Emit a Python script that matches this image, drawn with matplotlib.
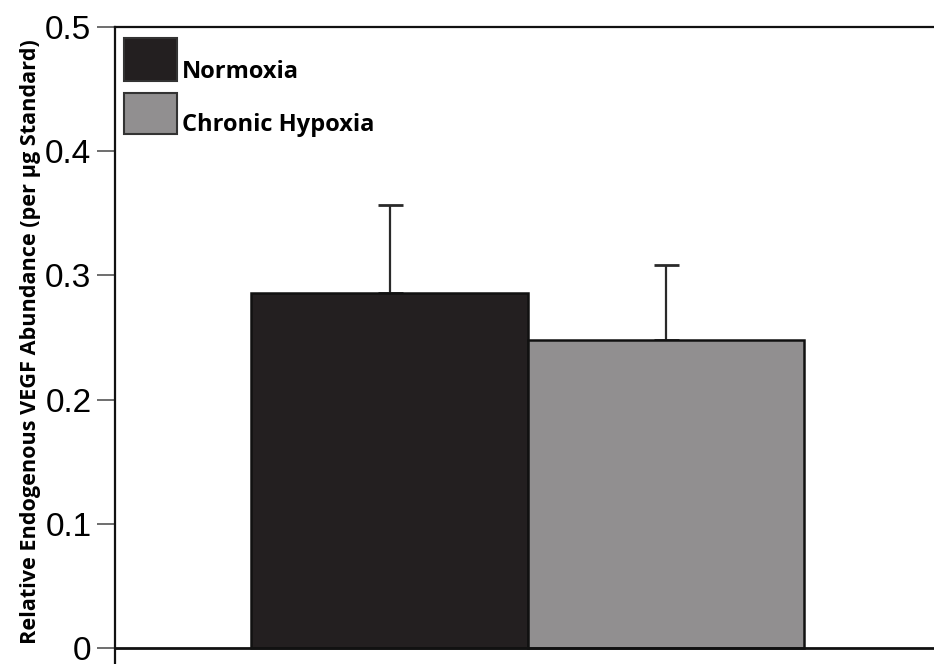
import numpy as np
import matplotlib.pyplot as plt
from matplotlib.patches import Rectangle

# data
groups = ["Normoxia", "Chronic Hypoxia"]
means = [0.286, 0.248]
errors = [0.071, 0.060]
colors = ["#231f20", "#918f90"]
yticks = [0, 0.1, 0.2, 0.3, 0.4, 0.5]
ytick_labels = ["0", "0.1", "0.2", "0.3", "0.4", "0.5"]

W, H = 934, 664
fig = plt.figure(figsize=(W / 100, H / 100), dpi=100)
ax = fig.add_axes([115 / W, 0, 1 - 115 / W, 1 - 27 / H])

x = np.arange(len(groups))
ax.bar(x, means, width=1.0, color=colors, edgecolor="#111111", linewidth=1.8, zorder=2)
ax.errorbar(x, means, yerr=[np.zeros(len(errors)), errors], fmt="none",
            ecolor="#2a2a2a", elinewidth=1.6, capsize=9, capthick=2, zorder=1)

ax.set_xlim(-0.993, 1.969)
ax.set_ylim(-0.0129, 0.5)
ax.spines["bottom"].set_position(("data", 0))
ax.spines["right"].set_visible(False)
for s, lw in [("left", 1.6), ("top", 1.6), ("bottom", 2.0)]:
    ax.spines[s].set_linewidth(lw)
    ax.spines[s].set_color("#111111")

ax.set_xticks([])
ax.set_yticks(yticks)
ax.set_yticklabels(ytick_labels, fontfamily="Liberation Sans", fontsize=24)
ax.tick_params(axis="y", direction="out", length=13, width=1.2, color="#555555", pad=4)

fig.text(31 / W, 1 - 342 / H, "Relative Endogenous VEGF Abundance (per µg Standard)",
         rotation=90, ha="center", va="center", fontsize=15.6,
         fontweight="bold", fontfamily="Open Sans")

# legend drawn by hand: boxes at the upper left, labels bottom-aligned to boxes
boxes = [(124, 38, 53, 43), (124, 93, 53, 41)]
for (bx, by, bw, bh), c, g in zip(boxes, colors, groups):
    fig.patches.append(Rectangle((bx / W, 1 - (by + bh) / H), bw / W, bh / H,
                                 transform=fig.transFigure, facecolor=c,
                                 edgecolor="#333333", linewidth=1.5))
    fig.text(182 / W, 1 - (by + bh - 3) / H, g, ha="left", va="baseline",
             fontsize=17, fontweight="bold", fontfamily="Open Sans")

fig.savefig("out.png", dpi=100)
